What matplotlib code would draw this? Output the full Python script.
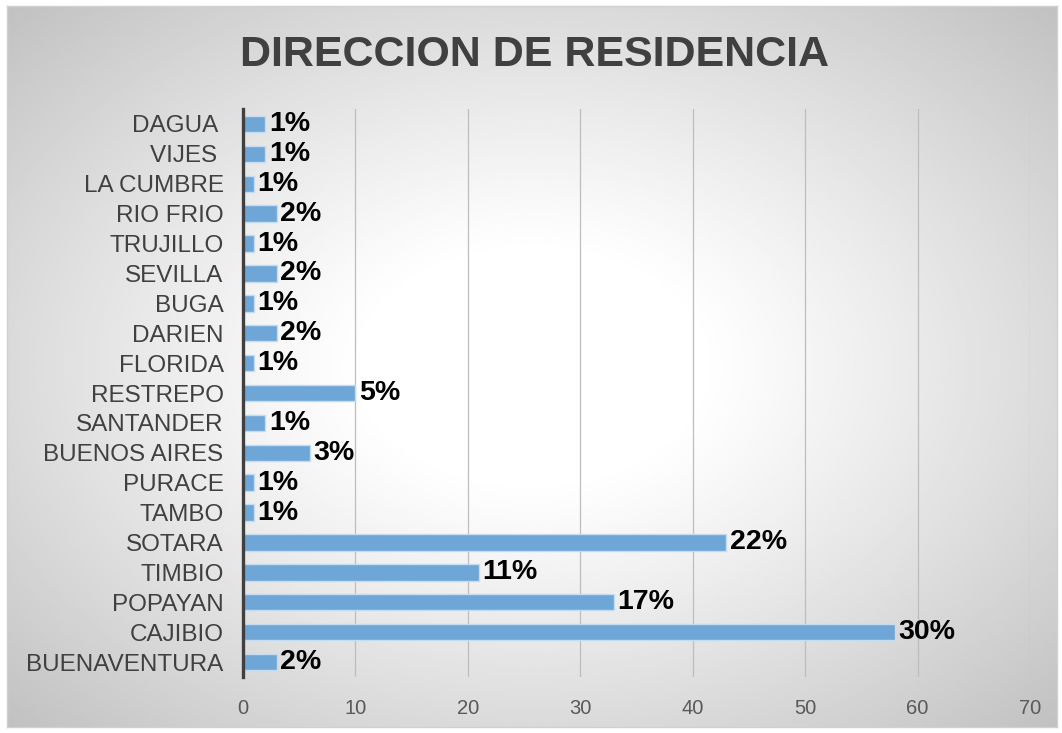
import matplotlib.pyplot as plt
import numpy as np

# data (top to bottom)
categories = ["DAGUA ", "VIJES ", "LA CUMBRE", "RIO FRIO", "TRUJILLO", "SEVILLA",
              "BUGA", "DARIEN", "FLORIDA", "RESTREPO", "SANTANDER", "BUENOS AIRES",
              "PURACE", "TAMBO", "SOTARA", "TIMBIO", "POPAYAN", "CAJIBIO", "BUENAVENTURA"]
counts = [2, 2, 1, 3, 1, 3, 1, 3, 1, 10, 2, 6, 1, 1, 43, 21, 33, 58, 3]
pct_labels = ["1%", "1%", "1%", "2%", "1%", "2%", "1%", "2%", "1%", "5%", "1%", "3%",
              "1%", "1%", "22%", "11%", "17%", "30%", "2%"]
x_ticks = [0, 10, 20, 30, 40, 50, 60, 70]

FONT = ["Liberation Sans", "DejaVu Sans"]
plt.rcParams['font.family'] = FONT

fig = plt.figure(figsize=(10.62, 7.33), dpi=100)

# radial grey background, like the spreadsheet chart area
bg = fig.add_axes([7 / 1062, 6 / 733, 1050 / 1062, 721 / 733])
yy, xx = np.mgrid[0:1:300j, 0:1:400j]
r = np.sqrt(((xx - 0.5) / 0.72) ** 2 + ((yy - 0.5) / 0.72) ** 2)
t = np.clip((r - 0.22) / 0.78, 0, 1)
shade = 1.0 - 0.25 * t ** 1.1
bg.imshow(shade, cmap='gray', vmin=0, vmax=1, aspect='auto', extent=[0, 1, 0, 1])
bg.set_xticks([])
bg.set_yticks([])
for s in bg.spines.values():
    s.set_color('#d0d0d0')
    s.set_linewidth(1.0)

ax = fig.add_axes([243 / 1062, 56 / 733, 787 / 1062, 568 / 733])
ax.patch.set_alpha(0)

y = np.arange(len(categories))
ax.barh(y, counts, height=0.55, color='#6fa6d8', edgecolor='#c5dcf0', linewidth=1.0, zorder=3)

for yi, v, lab in zip(y, counts, pct_labels):
    ax.text(v + 0.3, yi, lab, va='center', ha='left', fontsize=20.5, fontweight='bold',
            color='black', zorder=4)

ax.set_xlim(0, 70)
ax.set_ylim(len(categories) - 0.5, -0.5)
ax.set_xticks(x_ticks)
ax.set_yticks(y)
ax.set_yticklabels(categories)
ax.tick_params(axis='y', length=0, pad=14, labelsize=17.5, labelcolor='#404040')
ax.tick_params(axis='x', length=0, pad=16, labelsize=14.5, labelcolor='#595959')
ax.grid(axis='x', color='#bdbdbd', linewidth=0.9, zorder=0)
ax.set_axisbelow(True)

for side in ['top', 'right', 'bottom']:
    ax.spines[side].set_visible(False)
ax.spines['left'].set_color('#404040')
ax.spines['left'].set_linewidth(2.4)
ax.spines['left'].set_zorder(5)

fig.text(535 / 1062, 1 - 55 / 733, "DIRECCION DE RESIDENCIA", ha='center', va='center',
         fontsize=31, fontweight='bold', color='#404040')

fig.savefig("out.png", dpi=100)
